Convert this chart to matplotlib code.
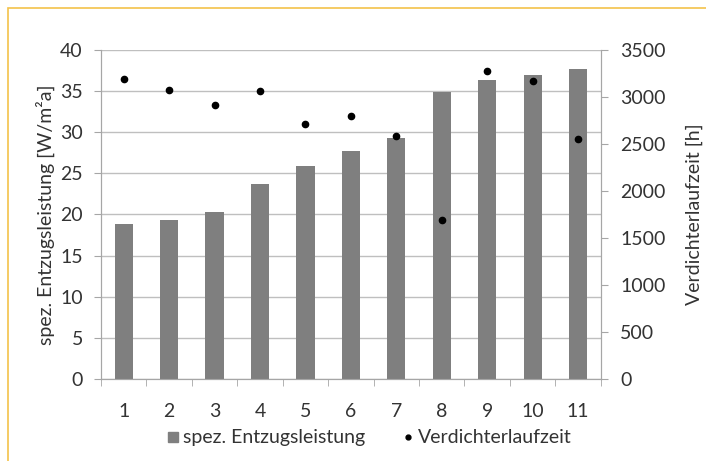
import matplotlib.pyplot as plt
import numpy as np
from matplotlib.patches import Rectangle
from matplotlib.lines import Line2D

plt.rcParams['font.family'] = ['Lato', 'DejaVu Sans']

nr = [1, 2, 3, 4, 5, 6, 7, 8, 9, 10, 11]
entzug = [18.9, 19.3, 20.3, 23.7, 25.9, 27.7, 29.3, 34.9, 36.4, 37.0, 37.7]
laufzeit = [3190, 3075, 2915, 3065, 2715, 2800, 2590, 1690, 3275, 3175, 2555]

grey = '#a6a6a6'
txt = '#333333'
fs = 14
fig = plt.figure(figsize=(7.06, 4.61), dpi=100)
ax = fig.add_axes([0.143, 0.178, 0.708, 0.7135])
ax2 = ax.twinx()

x = np.arange(len(nr))
ax.bar(x, entzug, width=0.4, color='#7f7f7f', zorder=3)
ax2.plot(x, laufzeit, 'o', color='black', markersize=4.5, zorder=4)

ax.set_xlim(-0.5, len(nr) - 0.5)
ax.set_ylim(0, 40)
ax.set_yticks(range(0, 41, 5))
ax2.set_ylim(0, 3500)
ax2.set_yticks(range(0, 3501, 500))
ax.set_xticks(x)
ax.set_xticklabels([str(n) for n in nr])
ax.set_xticks(np.arange(-0.5, len(nr), 1), minor=True)

ax.grid(axis='y', color='#bfbfbf', linewidth=1, zorder=0)
ax.set_axisbelow(True)
ax.set_zorder(ax2.get_zorder() - 1)
ax2.patch.set_visible(False)

for a in (ax, ax2):
    a.spines['top'].set_visible(False)
    for s in ('left', 'right', 'bottom'):
        a.spines[s].set_color(grey)
ax.tick_params(axis='y', colors=grey, labelcolor=txt, labelsize=fs, length=5, pad=8)
ax2.tick_params(axis='y', colors=grey, labelcolor=txt, labelsize=fs, length=5, pad=9)
ax.tick_params(axis='x', which='major', length=0, labelsize=fs, labelcolor=txt, pad=17)
ax.tick_params(axis='x', which='minor', length=5, color=grey)

ax.set_ylabel('spez. Entzugsleistung [W/m²a]', fontsize=fs, color=txt, labelpad=4)
ax2.set_ylabel('Verdichterlaufzeit [h]', fontsize=fs, color=txt, labelpad=14)

handles = [
    Line2D([], [], marker='s', linestyle='none', color='#7f7f7f', markersize=7.5),
    Line2D([], [], marker='o', linestyle='none', color='black', markersize=3.5),
]
fig.legend(handles, ['spez. Entzugsleistung', 'Verdichterlaufzeit'],
           loc='center', bbox_to_anchor=(0.522, 0.05), ncol=2, frameon=False,
           fontsize=fs, handlelength=0.8, handletextpad=0.1, columnspacing=1.8,
           labelcolor=txt)

# thin gold frame along the top and left edge
fig.patches.append(Rectangle((8 / 706, -0.1), 1.2, 1 - 8 / 461 + 0.1, transform=fig.transFigure,
                             fill=False, edgecolor='#f3c24a', linewidth=1.2))

fig.savefig('out.png', dpi=100)
